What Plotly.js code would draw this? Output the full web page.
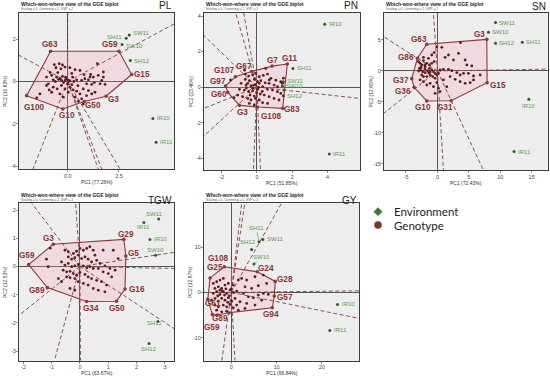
<!DOCTYPE html>
<html><head><meta charset="utf-8">
<script src="https://cdn.plot.ly/plotly-3.0.1.min.js"></script>
<style>html,body{margin:0;padding:0;background:#fff}#c{width:550px;height:378px}</style>
</head><body><div id="c"></div>
<script>
// ---------------- DATA ----------------
// PL
const PL_gx = [-0.65,-0.41,-0.25,-0.57,-0.33,-0.13,0.11,0.36,0.60,0.80,1.09,1.45,1.74,-1.03,-0.78,-0.70,-0.54,-0.38,-0.25,-0.13,-0.05,0.11,0.24,0.44,0.68,0.84,1.01,1.12,1.25,1.49,1.66,1.74,0.92,1.17,1.58,1.82,-0.70,-0.51,-0.30,-0.13,0.11,0.27,0.44,0.60,0.76,1.01,0.36,0.52,0.68,0.76,0.92,1.17,1.33,-0.78,-0.94,-1.03,-0.38,-0.21,0.03,-1.35,-0.45,-0.30,-0.60,-0.20,0.00,0.05,-0.10,0.20,0.30,0.50,-1.51,-0.85,-0.48,0.20,1.30,-0.90];
const PL_gy = [0.80,0.84,0.78,0.65,0.60,0.68,0.65,0.56,0.52,0.32,0.21,0.84,0.45,0.21,0.29,0.08,0.21,0.13,0.24,0.05,0.13,0.02,0.21,0.08,0.05,0.13,0.08,0.33,0.21,0.29,0.05,0.21,-0.11,-0.14,-0.11,-0.14,-0.27,-0.35,-0.19,-0.35,-0.27,-0.40,-0.46,-0.59,-0.35,-0.43,-0.74,-0.94,-0.82,-1.06,-0.67,-0.59,-0.51,-0.51,-0.11,-0.19,-0.59,-0.74,-0.51,-0.59,0.10,0.05,0.00,-0.05,-0.10,0.05,0.20,-0.15,0.00,-0.20,-0.78,0.42,0.42,0.38,-0.05,-0.40];
const PL_vx = [-0.83,2.50,3.12,1.87,0.81,-0.24,-2.00];
const PL_vy = [1.43,1.43,0.33,-0.70,-0.95,-1.30,-0.67];
const PL_vlab = ['G63','G59','G15','G3','G50','G10','G100'];
const PL_ex = [2.85,3.00,2.65,3.05,4.15,4.31];
const PL_ey = [2.05,2.20,1.75,0.99,-1.75,-2.87];
const PL_elab = ['SH11','SW11','SW10','SH12','IR10','IR11'];
const PL_rx = [0,5.18,-2.37,-1.69,1.49,1.66,2.55];
const PL_ry = [3.24,2.72,1.24,-4.14,-4.14,-4.14,-4.14];
const PL_xtick = [0,2.5], PL_xtext = ['0.0','2.5'];
const PL_ytick = [-4,-2,0,2];

// PN
const PN_gx = [-0.66,-0.47,-0.24,-0.06,0.13,0.36,0.60,0.79,1.07,1.35,-0.66,-0.43,-0.15,0.04,0.22,0.47,0.69,0.97,1.16,1.44,-0.90,-0.62,-0.34,-0.09,0.09,0.32,0.60,0.88,1.16,1.35,-0.99,-0.71,-0.47,-0.24,-0.02,0.19,0.41,0.69,0.97,1.25,-1.09,-0.81,-0.52,-0.34,-0.09,0.13,0.32,0.60,-0.43,-0.15,-0.52,-0.24,0.04,-0.39,-0.15,0.13,-1.50,-1.30,1.50,1.50,0.50,-0.70,-0.20,0.30,-0.60,0.70];
const PN_gy = [0.73,0.62,0.68,0.77,0.58,0.66,0.73,0.49,0.39,0.30,0.43,0.36,0.43,0.30,0.36,0.24,0.21,0.11,0.02,0.21,0.21,0.11,0.06,0.13,-0.02,0.02,-0.13,-0.17,-0.26,-0.36,-0.13,-0.17,-0.26,-0.21,-0.32,-0.39,-0.45,-0.54,-0.64,-0.73,-0.45,-0.54,-0.64,-0.73,-0.64,-0.73,-0.88,-0.92,-0.92,-1.01,0.21,-0.07,-0.13,-0.45,-0.51,0.21,0.40,-0.60,-0.50,0.50,1.05,0.95,0.10,-0.25,-0.05,0.40];
const PN_vx = [1.72,0.86,-0.30,-1.22,-1.78,-1.65,-0.99,0.02,1.46];
const PN_vy = [1.30,1.18,0.88,0.58,0.06,-0.30,-1.03,-1.12,-1.20];
const PN_vlab = ['G11','G7','G67','G107','G97','G60','G3','G108','G83'];
const PN_ex = [3.84,2.04,1.50,1.44,1.53,4.10];
const PN_ey = [3.53,1.05,0.30,0.06,-0.17,-3.77];
const PN_elab = ['IR10','SH11','SW11','SW10','SH12','IR11'];
const PN_rx = [-1.20,-0.75,-3.00,-3.00,-3.00,-0.20,0.20,5.84];
const PN_ry = [4.17,4.17,2.90,-1.20,-2.75,-4.67,-4.67,-0.64];
const PN_xtick = [-2,0,2,4];
const PN_ytick = [-4,-2,0,2,4];

// SN
const SN_gx = [0.70,1.23,1.76,2.55,3.35,4.41,4.68,5.47,0.96,1.76,2.29,3.09,3.62,4.15,4.94,5.74,6.80,2.02,2.82,3.62,4.41,5.21,5.74,0.96,0.17,0.43,-0.36,1.49,-3.02,-2.75,-2.49,-2.22,-1.96,-1.69,-2.86,-2.65,-2.33,-1.96,-1.58,-1.27,-0.90,-0.63,-0.36,-0.10,-2.49,-2.22,-1.69,-1.16,-0.74,-0.36,0.17,0.43,-1.27,-0.90,-0.52,-2.22,-1.69,-1.16,-0.63,-0.10,-2.75,-2.22,-1.43,-0.90,-0.52,-0.10,-2.60,-2.00,-1.40,-3.00,-2.00,-1.20,3.67];
const SN_gy = [3.82,2.20,2.58,1.77,2.85,1.77,0.97,0.81,0.27,0.27,0.05,-0.27,-0.65,-0.38,-0.38,-0.81,-0.65,-0.91,-1.34,-1.72,-1.99,-1.88,-1.45,-1.45,-2.80,-3.33,-3.60,-2.53,1.51,1.24,0.97,1.67,0.70,1.24,0.43,0.16,-0.11,-0.27,0.05,0.43,0.16,-0.11,-0.38,-0.65,-0.65,-0.91,-0.91,-0.65,-0.91,-1.18,-0.38,0.16,0.97,1.24,1.51,-1.72,-2.26,-1.99,-2.53,-1.88,-1.45,2.20,2.04,2.58,2.96,3.92,0.60,0.30,-0.30,0.00,1.00,-0.20,4.57];
const SN_vx = [7.86,-1.69,-3.18,-4.08,-3.71,-1.69,2.18,7.91];
const SN_vy = [5.10,4.30,2.05,-1.24,-2.63,-4.84,-4.79,-1.89];
const SN_vlab = ['G3','G63','G86','G37','G36','G10','G31','G15'];
const SN_ex = [9.24,8.12,9.24,13.50,14.55,12.20];
const SN_ey = [7.80,6.24,4.47,4.63,-4.56,-13.00];
const SN_elab = ['SW11','SW10','SH12','SH11','IR10','IR11'];
const SN_rx = [17.55,7.30,0.96,-0.64,-8.50,-8.50];
const SN_ry = [0.30,-15.97,-15.97,9.35,5.50,-6.80];
const SN_xtick = [-5,0,5,10,15];
const SN_ytick = [-15,-10,-5,0,5];

// TGW
const TGW_gx = [-1.18,-1.12,-0.53,-0.41,-0.23,-0.12,0.00,0.12,0.24,0.35,0.47,0.53,0.82,1.18,1.35,-0.41,-0.29,-0.18,-0.06,0.06,0.18,0.29,0.41,0.59,0.71,0.88,1.06,1.24,-0.65,-0.53,-0.41,-0.29,-0.18,-0.06,0.12,0.24,0.35,0.47,0.65,0.82,1.00,1.12,-0.59,-0.47,-0.35,-0.23,-0.12,0.00,0.18,0.29,0.41,0.59,0.76,0.94,-0.47,-0.35,-0.18,-0.06,0.12,0.29,0.47,0.65,0.88,-0.76,-0.65,-0.35,-0.18,-1.05];
const TGW_gy = [0.26,-0.01,0.58,0.52,0.46,0.54,0.64,0.58,0.64,0.70,0.58,0.40,0.58,0.58,0.28,0.34,0.26,0.31,0.40,0.28,0.34,0.26,0.16,0.22,0.11,0.02,-0.07,-0.13,0.16,0.05,0.11,-0.01,0.02,0.07,0.02,-0.05,-0.01,-0.07,-0.07,-0.19,-0.25,-0.37,-0.13,-0.19,-0.17,-0.25,-0.31,-0.21,-0.28,-0.37,-0.43,-0.49,-0.54,-0.66,-0.37,-0.40,-0.43,-0.54,-0.60,-0.66,-0.78,-0.84,-0.90,-0.43,-0.54,-0.78,-0.84,0.65];
const TGW_vx = [-0.94,1.55,1.62,1.59,1.29,0.24,-1.15,-1.81];
const TGW_vy = [0.79,0.96,0.37,-0.80,-1.23,-1.24,-0.75,0.07];
const TGW_vlab = ['G3','G29','G5','G16','G50','G34','G89','G59'];
const TGW_ex = [2.78,2.26,2.47,2.67,2.75,2.44];
const TGW_ey = [1.68,1.56,0.96,0.40,-1.95,-2.73];
const TGW_elab = ['SW11','IR11','IR10','SW10','SH11','SH12'];
const TGW_rx = [-1.70,-0.15,3.32,3.32,3.32,-0.90,-2.15,0.02];
const TGW_ry = [2.24,2.24,0.50,-0.07,-2.20,-3.34,-1.73,-3.34];
const TGW_xtick = [-2,-1,0,1,2,3];
const TGW_ytick = [-3,-2,-1,0,1,2];

// GY
const GY_gx = [1.55,2.29,3.40,5.24,7.09,3.03,4.50,5.98,7.82,2.66,3.77,4.87,5.98,7.09,8.19,3.40,5.24,3.03,6.72,1.92,-3.98,-3.24,-2.50,-1.76,-3.61,-2.87,-2.13,-1.40,-0.66,0.45,-3.98,-3.24,-2.50,-1.76,-1.03,-0.29,0.45,1.19,-4.35,-3.61,-2.87,-2.13,-1.40,-0.66,0.08,0.82,-3.61,-2.87,-1.76,-1.03,-0.29,0.45,1.19,-2.13,-1.03,-3.24,1.55,-2.00,-1.20,-0.50,-1.50,-2.50,0.00,-0.80,-3.00];
const GY_gy = [2.72,3.09,2.72,3.46,3.83,1.24,0.88,1.47,1.98,-0.23,-0.97,-1.19,-0.60,-0.23,-0.45,-2.44,-2.81,-3.55,-1.71,-2.07,1.98,2.35,2.72,3.09,0.88,1.24,0.88,1.61,1.98,1.61,-0.23,0.14,-0.45,0.14,-0.23,0.51,0.00,0.29,-1.71,-1.34,-1.93,-1.34,-1.71,-1.19,-1.93,-1.34,-2.81,-3.18,-2.81,-3.18,-2.66,-3.40,-2.81,-4.29,-4.14,-3.92,-3.92,0.30,0.80,-0.80,-0.60,0.50,0.80,-2.20,-0.80];
const GY_vx = [-1.55,5.75,9.73,9.51,9.07,-0.50,-3.10,-4.20,-5.20,-4.70];
const GY_vy = [5.66,4.56,2.43,-0.82,-3.40,-4.50,-5.00,-4.90,-1.50,3.20];
const GY_vlab = ['G108','G24','G28','G57','G94','','G89','G59','G61','G25'];
const GY_ex = [6.13,7.00,4.50,5.02,23.50,21.80];
const GY_ey = [11.20,11.70,9.50,6.26,-2.65,-8.40];
const GY_elab = ['SH11','SW11','SH12','SW10','IR10','IR11'];
const GY_rx = [2.30,3.00,11.10,-2.10,0.80,28.25,28.25];
const GY_ry = [19.70,19.70,19.70,-15.10,-15.10,0.35,-5.75];
const GY_xtick = [0,10,20];
const GY_ytick = [-10,0,10];

const legendNames = ['Environment','Genotype'];

// ---------------- LAYOUT / STYLE ----------------
const W = 550, H = 378;
const fx = v => v / W, fy = v => 1 - v / H;
const FONT = 'Arial, "Liberation Sans", sans-serif';
const C = {poly:'#8b3a3a', fill:'rgba(255,150,175,0.22)', ray:'#7f3f3f', gdot:'#5a1c1c',
  vlab:'#8b3434', edot:'#2f5a2f', elab:'#5c9a4c', frame:'#3c3c3c', zero:'#555', tick:'#444'};

// label offsets (px) : [dx, dy, anchor]  (l = text right of point, r = text left, c = centred, a = with leader)
const panels = [
 {tag:'PL', tagY:6, gx:PL_gx, gy:PL_gy, vx:PL_vx, vy:PL_vy, vl:PL_vlab, ex:PL_ex, ey:PL_ey, el:PL_elab, rx:PL_rx, ry:PL_ry,
  xr:[-2.37,5.18], yr:[-4.14,3.24], box:[19,13,174,169], xt:PL_xtick, xtt:PL_xtext, yt:PL_ytick,
  xtitle:'PC1 (77.26%)', ytitle:'PC2 (10.63%)',
  vOff:[[-1,7],[-9,7],[10,0],[7,-3],[9,-4],[4,-7],[7,-12]],
  eOff:[[-2,1,'r'],[2,2,'l'],[2,-1,'l'],[2,0,'l'],[2,0,'l'],[2,0,'l']]},
 {tag:'PN', tagY:6, gx:PN_gx, gy:PN_gy, vx:PN_vx, vy:PN_vy, vl:PN_vlab, ex:PN_ex, ey:PN_ey, el:PN_elab, rx:PN_rx, ry:PN_ry,
  xr:[-3.0,5.84], yr:[-4.67,4.17], box:[204,13,360,170], xt:PN_xtick, yt:PN_ytick,
  xtitle:'PC1 (51.85%)', ytitle:'PC2 (23.46%)',
  vOff:[[2,5],[0,6],[-8,5],[-11,6],[-8,4],[-9,-2],[3,-7],[14,-10],[9,-1]],
  eOff:[[2,0,'l'],[2,0,'l'],[2,1,'l'],[2,0,'l'],[1,-6,'l'],[2,0,'l']]},
 {tag:'SN', tagY:7, gx:SN_gx, gy:SN_gy, vx:SN_vx, vy:SN_vy, vl:SN_vlab, ex:SN_ex, ey:SN_ey, el:SN_elab, rx:SN_rx, ry:SN_ry,
  xr:[-8.5,17.55], yr:[-15.97,9.35], box:[384,13,547.7,170], xt:SN_xtick, yt:SN_ytick,
  xtitle:'PC1 (72.43%)', ytitle:'PC2 (12.65%)',
  vOff:[[-7,5],[-8,5],[-11,1],[-11,-2],[-11,-4],[-4,-7],[-6,-7],[11,-3]],
  eOff:[[2,0,'l'],[2,0,'l'],[2,0,'l'],[2,0,'l'],[0,-7,'c'],[2,0,'l']]},
 {tag:'TGW', tagY:200, gx:TGW_gx, gy:TGW_gy, vx:TGW_vx, vy:TGW_vy, vl:TGW_vlab, ex:TGW_ex, ey:TGW_ey, el:TGW_elab, rx:TGW_rx, ry:TGW_ry,
  xr:[-2.15,3.32], yr:[-3.34,2.24], box:[19,203.3,174,360.7], xt:TGW_xtick, yt:TGW_ytick,
  xtitle:'PC1 (63.67%)', ytitle:'PC2 (12.53%)',
  vOff:[[-5,6],[2,5],[8,3],[12,0],[1,-7],[4,-7],[-10,-3],[-2,9]],
  eOff:[[-4,5,'c'],[0,-5,'c'],[2,0,'l'],[0,5,'c'],[-3,-2,'c'],[0,-6,'c']]},
 {tag:'GY', tagY:200, gx:GY_gx, gy:GY_gy, vx:GY_vx, vy:GY_vy, vl:GY_vlab, ex:GY_ex, ey:GY_ey, el:GY_elab, rx:GY_rx, ry:GY_ry,
  xr:[-6.04,28.25], yr:[-15.1,19.7], box:[204,203.3,359,360.7], xt:GY_xtick, yt:GY_ytick,
  xtitle:'PC1 (66.84%)', ytitle:'PC2 (12.97%)',
  vOff:[[-6,8],[9,3],[10,2],[11,-1],[-1,-7],[0,0],[3,-3],[0,-13],[5,-4],[5,10]],
  eOff:[[-3,14,'a'],[2,0,'l'],[-4,7,'c'],[8,7,'a'],[2,0,'l'],[2,0,'l']]}
];

const traces = [], ann = [], shapes = [];
const layout = {width:W, height:H, margin:{l:0,r:0,t:0,b:0}, paper_bgcolor:'#fff', plot_bgcolor:'#ededed',
  showlegend:false, font:{family:FONT, color:'#333'}, annotations:ann, shapes:shapes};

panels.forEach((p, i) => {
  const n = i + 1, s = n > 1 ? String(n) : '';
  const xa = 'x' + s, ya = 'y' + s;
  const axCommon = {showgrid:false, zeroline:true, zerolinecolor:C.zero, zerolinewidth:1,
    showline:true, mirror:true, linecolor:C.frame, linewidth:1, ticks:'outside', ticklen:2,
    tickcolor:C.tick, tickwidth:0.6, ticklabelstandoff:-1, tickfont:{family:FONT, size:5.5, color:C.tick}, fixedrange:true};
  layout['xaxis' + s] = Object.assign({}, axCommon, {domain:[fx(p.box[0]), fx(p.box[2])], range:p.xr,
    anchor:ya, tickmode:'array', tickvals:p.xt, ticktext:p.xtt || p.xt.map(String)});
  layout['yaxis' + s] = Object.assign({}, axCommon, {domain:[fy(p.box[3]), fy(p.box[1])], range:p.yr,
    anchor:xa, tickmode:'array', tickvals:p.yt, ticktext:p.yt.map(String)});

  // convex hull polygon
  traces.push({type:'scatter', mode:'lines', x:p.vx.concat([p.vx[0]]), y:p.vy.concat([p.vy[0]]),
    xaxis:xa, yaxis:ya, fill:'toself', fillcolor:C.fill, line:{color:C.poly, width:1.1}, hoverinfo:'skip'});
  // rays from origin
  const rxs = [], rys = [];
  p.rx.forEach((v, k) => { rxs.push(0, v, null); rys.push(0, p.ry[k], null); });
  traces.push({type:'scatter', mode:'lines', x:rxs, y:rys, xaxis:xa, yaxis:ya,
    line:{color:C.ray, width:0.9, dash:'4px,2.5px'}, hoverinfo:'skip'});
  // genotypes
  traces.push({type:'scatter', mode:'markers', x:p.gx, y:p.gy, xaxis:xa, yaxis:ya,
    marker:{color:C.gdot, size:2.8}, hoverinfo:'skip'});
  traces.push({type:'scatter', mode:'markers', x:p.vx, y:p.vy, xaxis:xa, yaxis:ya,
    marker:{color:C.poly, size:3.6}, hoverinfo:'skip'});
  // environments
  traces.push({type:'scatter', mode:'markers', x:p.ex, y:p.ey, xaxis:xa, yaxis:ya,
    marker:{color:C.edot, size:3}, hoverinfo:'skip'});

  // vertex labels
  p.vl.forEach((t, k) => {
    if (!t) return;
    ann.push({xref:xa, yref:ya, x:p.vx[k], y:p.vy[k], text:t, showarrow:false,
      xshift:p.vOff[k][0], yshift:p.vOff[k][1], xanchor:'center', yanchor:'middle',
      font:{family:FONT, size:8.2, color:C.vlab, weight:'bold'}});
  });
  // environment labels
  p.el.forEach((t, k) => {
    const o = p.eOff[k];
    const base = {xref:xa, yref:ya, x:p.ex[k], y:p.ey[k], text:t,
      font:{family:FONT, size:6, color:C.elab}};
    if (o[2] === 'a') {
      ann.push(Object.assign(base, {showarrow:true, arrowhead:0, arrowwidth:0.6, arrowcolor:C.elab,
        ax:o[0], ay:-o[1], standoff:1}));
    } else {
      ann.push(Object.assign(base, {showarrow:false, xshift:o[0], yshift:o[1],
        xanchor:o[2] === 'l' ? 'left' : (o[2] === 'r' ? 'right' : 'center'), yanchor:'middle'}));
    }
  });

  // titles
  const [L, T, R, B] = p.box;
  ann.push({xref:'paper', yref:'paper', x:fx(L), y:fy(T - 8.5), xanchor:'left', yanchor:'middle', showarrow:false,
    text:'Which-won-where view of the GGE biplot', font:{family:FONT, size:5, color:'#222', weight:'bold'}});
  ann.push({xref:'paper', yref:'paper', x:fx(L), y:fy(T - 3.6), xanchor:'left', yanchor:'middle', showarrow:false,
    text:'Scaling = 0, Centering = 2, SVP = 2', font:{family:FONT, size:3.3, color:'#555'}});
  ann.push({xref:'paper', yref:'paper', x:fx(R), y:fy(p.tagY), xanchor:'right', yanchor:'middle', showarrow:false,
    text:p.tag, font:{family:FONT, size:10, color:'#222'}});
  ann.push({xref:'paper', yref:'paper', x:fx((L + R) / 2), y:fy(B + 12.5), xanchor:'center', yanchor:'middle', showarrow:false,
    text:p.xtitle, font:{family:FONT, size:5, color:'#333'}});
  ann.push({xref:'paper', yref:'paper', x:fx(L - 14), y:fy((T + B) / 2), xanchor:'center', yanchor:'middle', showarrow:false,
    text:p.ytitle, textangle:-90, font:{family:FONT, size:5, color:'#333'}});
});

// legend: marker glyphs as shapes, text as annotations
const dx = 4.4, dy = 4.4, lx = 378, ly1 = 211.7, ly2 = 225;
shapes.push({type:'path', xref:'paper', yref:'paper', layer:'above', line:{width:0}, fillcolor:'#3d7a2e',
  path:`M ${fx(lx-dx)},${fy(ly1)} L ${fx(lx)},${fy(ly1-dy)} L ${fx(lx+dx)},${fy(ly1)} L ${fx(lx)},${fy(ly1+dy)} Z`});
shapes.push({type:'circle', xref:'paper', yref:'paper', layer:'above', line:{width:0}, fillcolor:'#7a3b22',
  x0:fx(lx-3.8), x1:fx(lx+3.8), y0:fy(ly2+3.8), y1:fy(ly2-3.8)});
[[ly1, legendNames[0]], [ly2, legendNames[1]]].forEach(([yy, t]) => {
  ann.push({xref:'paper', yref:'paper', x:fx(392), y:fy(yy), xanchor:'left', yanchor:'middle', showarrow:false,
    text:t, font:{family:'Lato, "Open Sans", sans-serif', size:11.5, color:'#222'}});
});

Plotly.newPlot('c', traces, layout, {staticPlot:true, displayModeBar:false});
</script></body></html>
